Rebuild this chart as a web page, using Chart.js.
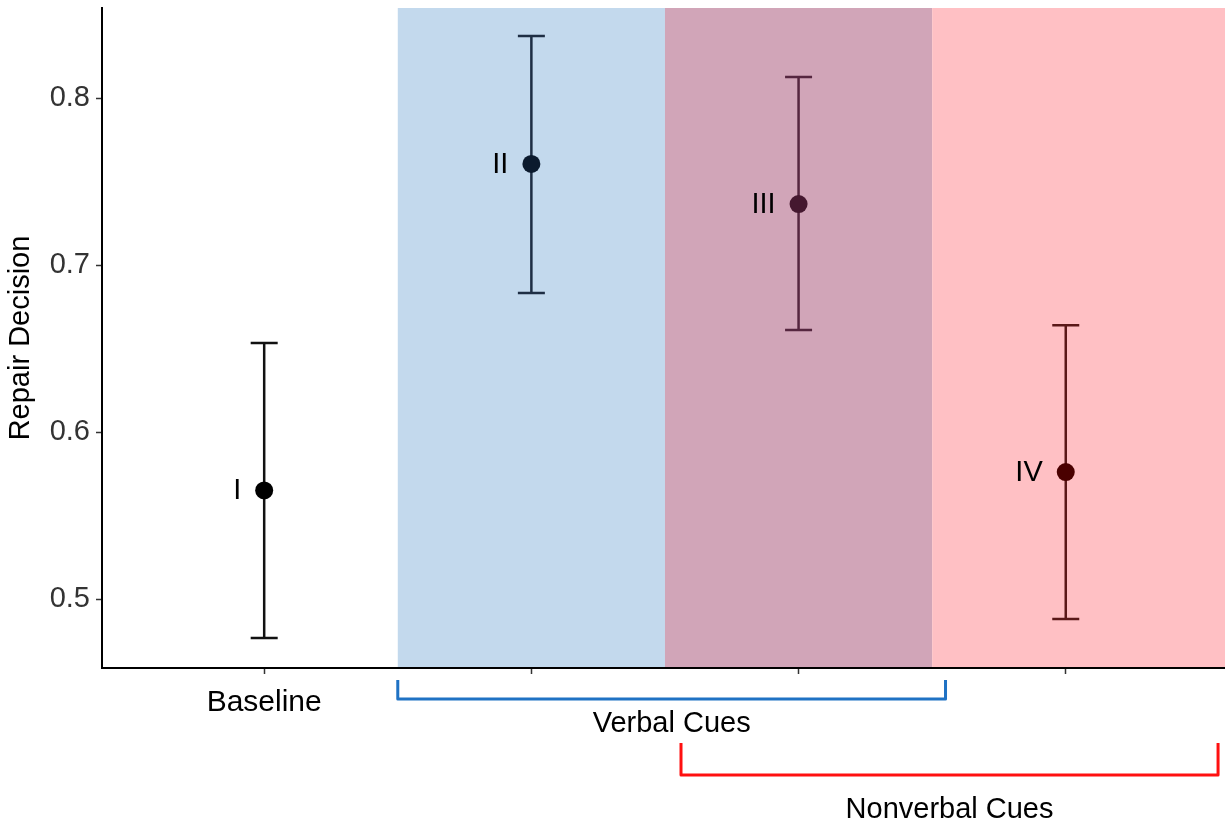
<!DOCTYPE html>
<html>
<head>
<meta charset="utf-8">
<script src="https://cdn.jsdelivr.net/npm/chart.js@4"></script>
<style>
  html, body { margin: 0; padding: 0; background: #ffffff; overflow: hidden; }
  #wrap { position: relative; width: 1225px; height: 828px; overflow: hidden; }
</style>
</head>
<body>
<div id="wrap"><canvas id="c"></canvas></div>
<script>
// ---- data ----
const conditions = ["I", "II", "III", "IV"];
const xPositions = [1, 2, 3, 4];
const xTickLabels = ["Baseline", "", "", ""];
const means = [0.565, 0.7605, 0.7365, 0.576];
const lowers = [0.4766, 0.6832, 0.6611, 0.488];
const uppers = [0.6533, 0.8371, 0.8126, 0.664];
const yTicks = [0.5, 0.6, 0.7, 0.8];
const pointColors = ["#000000", "#0b1a2e", "#45182f", "#4a0000"];
const errorColors = ["#111111", "#1e2e44", "#55263f", "#5a1818"];
// background bands (x ranges in category units)
const bandStarts = [1.5, 2.5, 3.5];
const bandEnds = [2.5, 3.5, 4.596];
const bandColors = ["#c3d9ed", "#d1a5b8", "#ffc0c4"];
// group brackets under the axis
const bracketLabels = ["Verbal Cues", "Nonverbal Cues"];
const bracketStarts = [1.5, 2.56];
const bracketEnds = [3.55, 4.57];
const bracketColors = ["#1f72c4", "#ff1010"];

const FONT = '"Liberation Sans", Arial, Helvetica, sans-serif';

function zeroPad(scale) {
  scale.paddingTop = 0; scale.paddingBottom = 0;
  scale.paddingLeft = 0; scale.paddingRight = 0;
}

const bandsPlugin = {
  id: 'bands',
  beforeDraw(chart) {
    const {ctx, chartArea: a, scales: {x}} = chart;
    ctx.save();
    ctx.beginPath();
    ctx.rect(a.left, a.top, a.right - a.left, a.bottom - a.top);
    ctx.clip();
    for (let i = 0; i < bandStarts.length; i++) {
      const x0 = x.getPixelForValue(bandStarts[i]);
      const x1 = x.getPixelForValue(bandEnds[i]);
      ctx.fillStyle = bandColors[i];
      ctx.fillRect(x0, a.top, x1 - x0, a.bottom - a.top);
    }
    ctx.restore();
  }
};

const errorPlugin = {
  id: 'errorbars',
  beforeDatasetsDraw(chart) {
    const {ctx, scales: {x, y}} = chart;
    ctx.save();
    ctx.lineWidth = 2.5;
    ctx.lineCap = 'butt';
    for (let i = 0; i < xPositions.length; i++) {
      const px = x.getPixelForValue(xPositions[i]);
      const y0 = y.getPixelForValue(lowers[i]);
      const y1 = y.getPixelForValue(uppers[i]);
      ctx.strokeStyle = errorColors[i];
      ctx.beginPath();
      ctx.moveTo(px, y0); ctx.lineTo(px, y1);
      ctx.moveTo(px - 13.5, y0); ctx.lineTo(px + 13.5, y0);
      ctx.moveTo(px - 13.5, y1); ctx.lineTo(px + 13.5, y1);
      ctx.stroke();
    }
    ctx.restore();
  },
  afterDatasetsDraw(chart) {
    const {ctx, scales: {x, y}} = chart;
    ctx.save();
    ctx.font = '29px ' + FONT;
    ctx.fillStyle = '#000000';
    ctx.textAlign = 'right';
    ctx.textBaseline = 'middle';
    for (let i = 0; i < conditions.length; i++) {
      const px = x.getPixelForValue(xPositions[i]);
      const py = y.getPixelForValue(means[i]);
      ctx.fillText(conditions[i], px - 23, py + 1);
    }
    ctx.restore();
  }
};

const bracketPlugin = {
  id: 'brackets',
  afterDraw(chart) {
    const {ctx, chartArea: a, scales: {x}} = chart;
    const tops = [a.bottom + 12, a.bottom + 75];
    const bottoms = [a.bottom + 31, a.bottom + 107];
    const textY = [a.bottom + 56, a.bottom + 142];
    ctx.save();
    for (let i = 0; i < bracketLabels.length; i++) {
      const x0 = x.getPixelForValue(bracketStarts[i]);
      const x1 = x.getPixelForValue(bracketEnds[i]);
      ctx.strokeStyle = bracketColors[i];
      ctx.lineWidth = 3;
      ctx.lineJoin = 'round';
      ctx.beginPath();
      ctx.moveTo(x0, tops[i]);
      ctx.lineTo(x0, bottoms[i]);
      ctx.lineTo(x1, bottoms[i]);
      ctx.lineTo(x1, tops[i]);
      ctx.stroke();
      ctx.font = '29px ' + FONT;
      ctx.fillStyle = '#000000';
      ctx.textAlign = 'center';
      ctx.textBaseline = 'middle';
      ctx.fillText(bracketLabels[i], (x0 + x1) / 2, textY[i]);
    }
    ctx.restore();
  }
};

const points = xPositions.map((v, i) => ({x: v, y: means[i]}));

new Chart(document.getElementById('c'), {
  type: 'scatter',
  data: {
    datasets: [{
      data: points,
      pointRadius: 9,
      pointHoverRadius: 9,
      pointBackgroundColor: pointColors,
      pointBorderColor: pointColors,
      pointBorderWidth: 0,
      showLine: false
    }]
  },
  options: {
    responsive: true,
    maintainAspectRatio: false,
    animation: false,
    events: [],
    layout: { autoPadding: false, padding: { top: 8, right: 0, left: 0, bottom: 0 } },
    plugins: {
      legend: { display: false },
      tooltip: { enabled: false }
    },
    scales: {
      x: {
        type: 'linear',
        min: 0.393,
        max: 4.596,
        afterBuildTicks(scale) { scale.ticks = xPositions.map(v => ({value: v})); },
        afterFit(scale) { scale.height = 160; zeroPad(scale); },
        grid: { drawOnChartArea: false, drawTicks: true, tickLength: 6, tickColor: '#333333', tickWidth: 1.5 },
        border: { display: true, color: '#000000', width: 2 },
        ticks: {
          autoSkip: false,
          maxRotation: 0,
          padding: 11,
          color: '#000000',
          font: { family: FONT, size: 30 },
          callback(value) {
            const i = xPositions.indexOf(value);
            return i >= 0 ? xTickLabels[i] : '';
          }
        }
      },
      y: {
        type: 'linear',
        min: 0.4587,
        max: 0.8539,
        afterBuildTicks(scale) { scale.ticks = yTicks.map(v => ({value: v})); },
        afterFit(scale) { scale.width = 102; zeroPad(scale); },
        grid: { drawOnChartArea: false, drawTicks: true, tickLength: 6, tickColor: '#333333', tickWidth: 1.5 },
        border: { display: true, color: '#000000', width: 2 },
        title: {
          display: true,
          text: 'Repair Decision',
          color: '#000000',
          font: { family: FONT, size: 29 },
          padding: { top: 4, bottom: 0 }
        },
        ticks: {
          padding: 6,
          color: '#333333',
          font: { family: FONT, size: 29 },
          callback(value) { return Number(value).toFixed(1); }
        }
      }
    }
  },
  plugins: [bandsPlugin, errorPlugin, bracketPlugin]
});
</script>
</body>
</html>
